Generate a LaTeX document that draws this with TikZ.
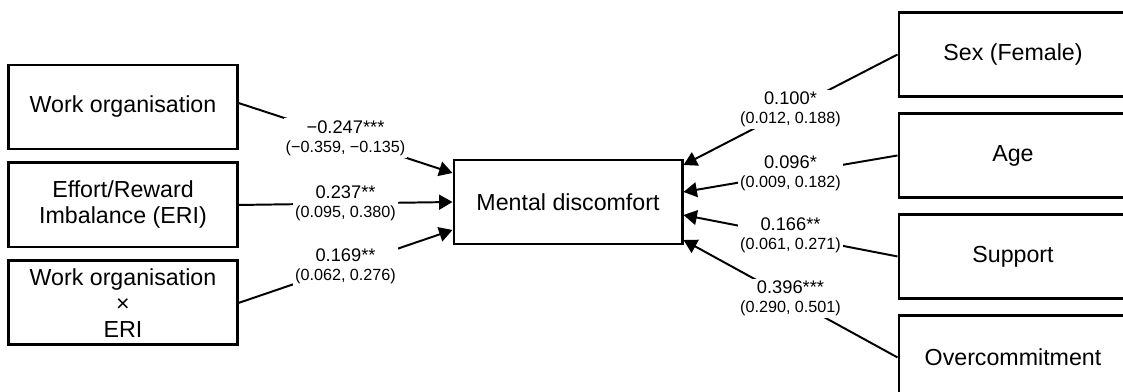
\documentclass[tikz,border=0pt]{standalone}
\usepackage{fontspec}
\setmainfont{Liberation Sans}
\usetikzlibrary{arrows.meta,calc,positioning}
% Koeffizient oben, Konfidenzintervall darunter
\newcommand{\koef}[2]{{\fontsize{13}{13.5}\selectfont #1}\\{\fontsize{11.5}{13.5}\selectfont #2}}

\begin{document}
\begin{tikzpicture}[x=0.025cm,y=-0.025cm,
  kasten/.style={draw,line width=2.1pt,minimum width=5.7cm,minimum height=2.1cm,
    align=center,inner sep=0pt,font=\fontsize{16.5}{18.5}\selectfont},
  pfeil/.style={line width=1.4pt,-{Triangle[length=9.5pt,width=10.5pt]}},
  wert/.style={fill=white,align=center,inner sep=1.5pt,font=\fontsize{11.5}{13.5}\selectfont}]
\clip (0,0) rectangle (1123,392);
%linke Seite
\node[kasten] (wo) at (123,107) {Work organisation};
\node[kasten,below=0.275cm of wo] (eri) {Effort/Reward\\Imbalance (ERI)};
\node[kasten,below=0.275cm of eri] (woeri) {Work organisation\\×\\ERI};
%Mitte
\node[kasten] (md) at (568,202) {Mental discomfort};
%rechte Seite
\node[kasten] (sex) at (1013,54.5) {Sex (Female)};
\node[kasten,below=0.35cm of sex] (age) {Age};
\node[kasten,below=0.35cm of age] (sup) {Support};
\node[kasten,below=0.35cm of sup] (oc) {Overcommitment};
%Pfade
\draw[pfeil] ($(wo.east)+(0,-4)$) -- node[wert] {\koef{−0.247***}{(−0.359, −0.135)}} ($(md.west)+(0,-29)$);
\draw[pfeil] (eri.east) -- node[wert] {\koef{0.237**}{(0.095, 0.380)}} (md.west);
\draw[pfeil] (woeri.east) -- node[wert] {\koef{0.169**}{(0.062, 0.276)}} ($(md.west)+(0,28)$);
\draw[pfeil] (sex.west) -- node[wert] {\koef{0.100*}{(0.012, 0.188)}} ($(md.east)+(0,-37)$);
\draw[pfeil] (age.west) -- node[wert] {\koef{0.096*}{(0.009, 0.182)}} ($(md.east)+(0,-10)$);
\draw[pfeil] (sup.west) -- node[wert] {\koef{0.166**}{(0.061, 0.271)}} ($(md.east)+(0,13)$);
\draw[pfeil] (oc.west) -- node[wert] {\koef{0.396***}{(0.290, 0.501)}} ($(md.east)+(0,38)$);
\end{tikzpicture}
\end{document}
